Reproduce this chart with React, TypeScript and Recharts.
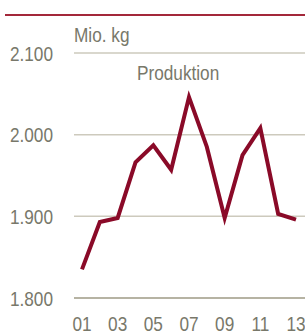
import { CartesianGrid, Line, LineChart, XAxis, YAxis } from 'recharts'

const YEARS = ['01', '02', '03', '04', '05', '06', '07', '08', '09', '10', '11', '12', '13']
const PRODUKTION = [1835, 1893, 1898, 1966, 1987, 1957, 2046, 1985, 1898, 1975, 2008, 1903, 1896]
const Y_TICKS = [1800, 1900, 2000, 2100]

const FONT = '"Liberation Sans", Arial, sans-serif'
const TEXT_COLOR = '#78786a'
const NARROW = 0.82

const data = YEARS.map((year, i) => ({ year, value: PRODUKTION[i] }))

const formatDe = (v: number) => v.toLocaleString('de-DE')

// Arial Narrow isn't available, so squeeze Liberation Sans horizontally
function NarrowText({ x, y, anchor, children }: { x: number; y: number; anchor: 'start' | 'middle' | 'end'; children: any }) {
  return (
    <g transform={`translate(${x},${y}) scale(${NARROW},1)`}>
      <text x={0} y={0} textAnchor={anchor} fontFamily={FONT} fontSize={21} fill={TEXT_COLOR}>
        {children}
      </text>
    </g>
  )
}

function YTick(props: any) {
  const { x, y, payload } = props
  return <NarrowText x={x} y={y + 7.5} anchor="end">{formatDe(payload.value)}</NarrowText>
}

function XTick(props: any) {
  const { x, y, payload } = props
  return <NarrowText x={x} y={y + 33} anchor="middle">{payload.value}</NarrowText>
}

export default function App() {
  return (
    <div style={{ position: 'absolute', top: 0, left: 0, width: 305, height: 333, background: '#fff' }}>
      <div style={{ position: 'absolute', top: 0, left: 0 }}>
        <LineChart width={305} height={333} data={data} margin={{ top: 53, right: 0, bottom: 0, left: 0 }}>
          <CartesianGrid vertical={false} stroke="#cdcabd" strokeWidth={1.5} />
          <XAxis
            dataKey="year"
            interval={1}
            height={35}
            padding={{ left: 8, right: 9 }}
            tickLine={false}
            tickSize={0}
            tickMargin={0}
            axisLine={{ stroke: '#aaa795', strokeWidth: 1.5 }}
            tick={<XTick />}
          />
          <YAxis
            width={74}
            domain={[1800, 2100]}
            ticks={Y_TICKS}
            axisLine={false}
            tickLine={false}
            tickSize={0}
            tickMargin={21}
            tick={<YTick />}
          />
          <Line
            type="linear"
            dataKey="value"
            stroke="#8a0a28"
            strokeWidth={4}
            dot={false}
            activeDot={false}
            isAnimationActive={false}
          />
        </LineChart>
      </div>
      <svg width={305} height={333} style={{ position: 'absolute', top: 0, left: 0, pointerEvents: 'none' }}>
        <rect x={5} y={14} width={300} height={2} fill="#a3283a" />
        <NarrowText x={74} y={42} anchor="start">Mio. kg</NarrowText>
        <NarrowText x={137} y={80} anchor="start">Produktion</NarrowText>
      </svg>
    </div>
  )
}
